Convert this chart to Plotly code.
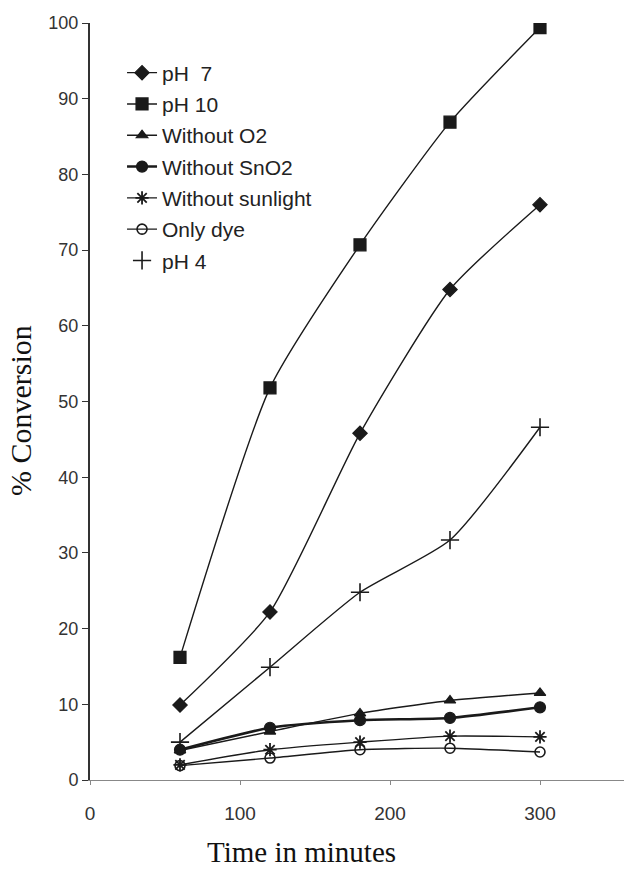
import plotly.graph_objects as go

time = [60, 120, 180, 240, 300]
ph7 = [9.9, 22.2, 45.8, 64.8, 76.0]
ph10 = [16.2, 51.8, 70.7, 86.9, 99.4]
without_o2 = [3.9, 6.4, 8.8, 10.5, 11.5]
without_sno2 = [4.0, 6.9, 7.9, 8.2, 9.6]
without_sunlight = [2.0, 4.0, 5.0, 5.8, 5.7]
only_dye = [1.9, 2.9, 4.0, 4.2, 3.7]
ph4 = [5.0, 14.9, 24.8, 31.7, 46.6]

x_ticks = [0, 100, 200, 300]
y_ticks = [0, 10, 20, 30, 40, 50, 60, 70, 80, 90, 100]

LC = "#1a1a1a"
fig = go.Figure()

def add(name, y, symbol, size, lw=1.4, mlw=1.2, mcolor=LC):
    fig.add_trace(go.Scatter(
        x=time, y=y, name=name, mode="lines+markers", legendgroup=name,
        line=dict(color=LC, width=lw, shape="spline", smoothing=0.6),
        marker=dict(symbol=symbol, size=size, color=mcolor,
                    line=dict(color=LC, width=mlw)),
    ))

add("pH  7", ph7, "diamond", 11)
add("pH 10", ph10, "square", 12)
add("Without O2", without_o2, "triangle-up", 10)
add("Without SnO2", without_sno2, "circle", 11, lw=2.6)
add("Without sunlight", without_sunlight, "asterisk-open", 11, mlw=1.8)
add("Only dye", only_dye, "circle-open", 10, mlw=1.6)

# pH 4: line without legend entry, markers with legend entry
fig.add_trace(go.Scatter(
    x=time, y=ph4, mode="lines", showlegend=False,
    line=dict(color=LC, width=1.4, shape="spline", smoothing=0.6),
))
fig.add_trace(go.Scatter(
    x=time, y=ph4, name="pH 4", mode="markers", legendgroup="ph4",
    marker=dict(symbol="cross-thin-open", size=13, color=LC,
                line=dict(color=LC, width=1.6)),
))

fig.update_layout(
    width=624, height=871,
    margin=dict(l=90, r=0, t=23, b=91),
    paper_bgcolor="white", plot_bgcolor="white",
    showlegend=True,
    legend=dict(x=0.06, y=0.961, xanchor="left", yanchor="top",
                bgcolor="rgba(0,0,0,0)", tracegroupgap=1,
                font=dict(family="Liberation Sans, Arial", size=21, color="#222"),
                itemwidth=30),
    font=dict(family="Liberation Sans, Arial", size=19, color="#333"),
)
fig.update_xaxes(
    range=[0, 356], tickvals=x_ticks, ticktext=[str(v) for v in x_ticks],
    showgrid=False, zeroline=False, showline=True, linecolor="#888", linewidth=1.2,
    ticks="outside", ticklen=4, tickcolor="#888", ticklabelstandoff=12,
    tickfont=dict(family="Liberation Sans, Arial", size=19, color="#333"),
)
fig.update_yaxes(
    range=[0, 100], tickvals=y_ticks, ticktext=[str(v) for v in y_ticks],
    showgrid=False, zeroline=False, showline=True, linecolor="#333", linewidth=2,
    ticks="outside", ticklen=6, tickcolor="#333",
    tickfont=dict(family="Liberation Sans, Arial", size=18, color="#333"),
)
fig.add_annotation(text="Time in minutes", xref="paper", yref="paper",
                   x=(301 - 90) / 534, y=-0.095, xanchor="center", yanchor="middle",
                   showarrow=False,
                   font=dict(family="Liberation Serif, Times New Roman", size=29, color="#111"))
fig.add_annotation(text="% Conversion", xref="paper", yref="paper",
                   x=(21 - 90) / 534, y=(780 - 411) / 757, xanchor="center", yanchor="middle",
                   textangle=-90, showarrow=False,
                   font=dict(family="Liberation Serif, Times New Roman", size=30, color="#111"))

fig.write_html("out.html", config={"displayModeBar": False},
               post_script="document.body.style.margin='0';document.body.style.overflow='hidden';")
